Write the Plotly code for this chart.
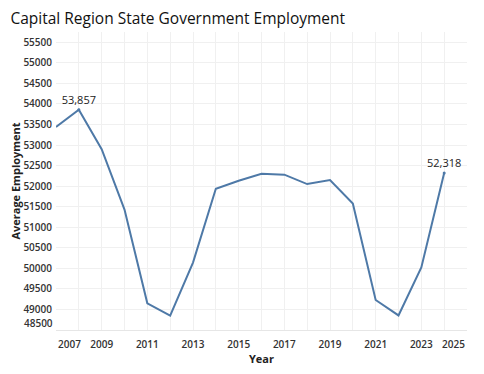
import plotly.graph_objects as go

years = list(range(2007, 2025))
employment = [53440, 53857, 52900, 51430, 49150, 48850, 50140, 51935,
              52130, 52300, 52280, 52050, 52150, 51575, 49230, 48855, 50020, 52318]
labeled_years = [2008, 2024]

x_tick_vals = list(range(2007, 2026, 2))
y_tick_vals = list(range(48500, 56000, 500))

FONT = "Open Sans"
TICK_COLOR = "#333333"
TICK_SIZE = 10

fig = go.Figure()
fig.add_trace(go.Scatter(
    x=years, y=employment, mode="lines",
    line=dict(color="#4e79a7", width=2),
    hoverinfo="skip", showlegend=False,
))
lab_x = [y for y in labeled_years]
lab_y = [employment[years.index(y)] for y in labeled_years]
fig.add_trace(go.Scatter(
    x=lab_x, y=lab_y, mode="markers+text",
    marker=dict(color="#4e79a7", size=3),
    text=[f"{v:,}" for v in lab_y], textposition="top center",
    textfont=dict(family=FONT, size=11, color="#222222"),
    hoverinfo="skip", showlegend=False,
))

x_text = [str(v) if v not in (x_tick_vals[0], x_tick_vals[-1]) else "" for v in x_tick_vals]
y_text = [str(v) if v != y_tick_vals[0] else "" for v in y_tick_vals]

# page body adds an 8px offset, so the figure is sized to fit the window
fig.update_layout(
    width=476, height=366,
    margin=dict(l=48, r=17, t=24, b=44, autoexpand=False),
    paper_bgcolor="white", plot_bgcolor="white",
    title=dict(text="Capital Region State Government Employment",
               x=0.005, xanchor="left", y=0.97, yanchor="middle", pad=dict(l=0, t=0),
               font=dict(family=FONT, size=15.5, color="#111111")),
    font=dict(family=FONT),
)
fig.update_xaxes(
    range=[2007, 2025], tickvals=x_tick_vals, ticktext=x_text,
    showgrid=True, gridcolor="#f0f0f0", gridwidth=1,
    minor=dict(dtick=1, tick0=2007, showgrid=True, gridcolor="#f0f0f0"),
    showline=True, linecolor="#e6e6e6", linewidth=1,
    zeroline=False, ticks="", ticklabelstandoff=5, automargin=False,
    tickfont=dict(family=FONT, size=TICK_SIZE, color=TICK_COLOR, weight=600),
    title=dict(text="Year", standoff=3,
               font=dict(family=FONT, size=11, color="#222222", weight="bold")),
)
fig.update_yaxes(
    range=[48500, 55750], tickvals=y_tick_vals, ticktext=y_text,
    showgrid=True, gridcolor="#f0f0f0", gridwidth=1,
    showline=False, zeroline=False, ticks="", ticklabelstandoff=3, automargin=False,
    tickfont=dict(family=FONT, size=TICK_SIZE, color=TICK_COLOR, weight=600),
    title=dict(text="Average Employment", standoff=3,
               font=dict(family=FONT, size=11, color="#222222", weight="bold")),
)

# End labels kept inside the plot extent (as in the reference)
fig.add_annotation(x=x_tick_vals[0], xref="x", y=0, yref="paper", yshift=-5,
                   text=str(x_tick_vals[0]), showarrow=False, xanchor="left", yanchor="top",
                   font=dict(family=FONT, size=TICK_SIZE, color=TICK_COLOR, weight=600))
fig.add_annotation(x=x_tick_vals[-1], xref="x", y=0, yref="paper", yshift=-5,
                   text=str(x_tick_vals[-1]), showarrow=False, xanchor="right", yanchor="top",
                   font=dict(family=FONT, size=TICK_SIZE, color=TICK_COLOR, weight=600))
fig.add_annotation(x=0, xref="paper", xshift=-1, y=y_tick_vals[0], yref="y", yshift=-2,
                   text=str(y_tick_vals[0]), showarrow=False, xanchor="right", yanchor="bottom",
                   font=dict(family=FONT, size=TICK_SIZE, color=TICK_COLOR, weight=600))

fig.write_html("out.html")
